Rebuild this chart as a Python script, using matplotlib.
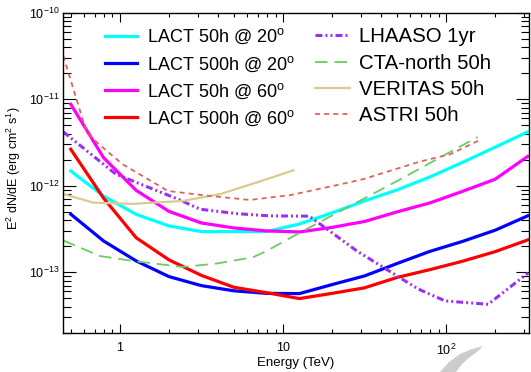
import matplotlib
matplotlib.use('Agg')
import matplotlib.pyplot as plt
from matplotlib.ticker import FixedLocator, FuncFormatter, NullFormatter, LogLocator
from matplotlib.patches import Polygon

plt.rcParams['font.family'] = ['Liberation Sans', 'DejaVu Sans']
plt.rcParams['mathtext.fontset'] = 'custom'
plt.rcParams['mathtext.rm'] = 'Liberation Sans'
plt.rcParams['mathtext.it'] = 'Liberation Sans:italic'
plt.rcParams['mathtext.bf'] = 'Liberation Sans:bold'
plt.rcParams['lines.scale_dashes'] = False

# ---------------- data ----------------
lact_E = [0.5, 0.794, 1.26, 2.0, 3.16, 5.0, 7.94, 12.6, 20.0, 31.6, 50.0, 79.4, 126, 200, 316]
lact50_20 = [1.48e-12, 7.6e-13, 4.66e-13, 3.43e-13, 2.95e-13, 2.95e-13, 2.95e-13, 3.61e-13,
             4.86e-13, 6.67e-13, 8.94e-13, 1.26e-12, 1.86e-12, 2.79e-12, 4.19e-12]
lact500_20 = [4.69e-13, 2.3e-13, 1.35e-13, 8.9e-14, 7.0e-14, 6.1e-14, 5.7e-14, 5.66e-14,
              7.2e-14, 9.06e-14, 1.26e-13, 1.74e-13, 2.27e-13, 3.06e-13, 4.48e-13]
lact50_60 = [8.75e-12, 2.11e-12, 8.83e-13, 5.05e-13, 3.71e-13, 3.25e-13, 3.0e-13, 2.92e-13,
             3.3e-13, 3.86e-13, 4.98e-13, 6.32e-13, 8.6e-13, 1.19e-12, 2.18e-12]
lact500_60 = [2.64e-12, 7.2e-13, 2.5e-13, 1.39e-13, 9.2e-14, 6.7e-14, 5.8e-14, 4.96e-14,
              5.7e-14, 6.6e-14, 8.7e-14, 1.07e-13, 1.34e-13, 1.73e-13, 2.36e-13]

lhaaso_E = [0.45, 0.945, 2.33, 3.1, 5.2, 8.3, 14.5, 28.4, 67.3, 98.6, 181, 318]
lhaaso_F = [4.19e-12, 1.36e-12, 6.86e-13, 5.35e-13, 4.76e-13, 4.48e-13, 4.45e-13, 1.76e-13,
            6.41e-14, 4.66e-14, 4.26e-14, 9.8e-14]

cta_E = [0.45, 0.754, 1.2, 2.43, 3.92, 6.55, 7.93, 12.7, 50.8, 156]
cta_F = [2.33e-13, 1.54e-13, 1.35e-13, 1.15e-13, 1.26e-13, 1.49e-13, 1.76e-13, 2.87e-13,
         1.15e-12, 3.66e-12]

veritas_E = [0.45, 0.686, 1.2, 2.43, 4.1, 6.9, 11.6]
veritas_F = [8.03e-13, 6.38e-13, 6.17e-13, 6.67e-13, 7.98e-13, 1.09e-12, 1.51e-12]

astri_E = [0.45, 0.627, 0.765, 1.04, 1.97, 3.23, 6.27, 11.0, 20.3, 31, 69, 106, 157]
astri_F = [3.17e-11, 4.07e-12, 2.88e-12, 1.77e-12, 8.7e-13, 7.77e-13, 6.85e-13, 7.77e-13,
           9.95e-13, 1.19e-12, 1.9e-12, 2.31e-12, 3.3e-12]

x_ticks = [1, 10, 100]
x_tick_labels = ['1', '10', '10$^{2}$']
y_ticks = [1e-13, 1e-12, 1e-11, 1e-10]
y_tick_labels = ['10$^{-13}$', '10$^{-12}$', '10$^{-11}$', '10$^{-10}$']

# ---------------- figure ----------------
fig = plt.figure(figsize=(5.31, 3.72), dpi=100)
ax = fig.add_axes([63.3 / 531, (372 - 332.7) / 372, (528.5 - 63.3) / 531, 320 / 372])

lw = 2.3
l1, = ax.plot(lact_E, lact50_20, color='#00FFFF', lw=lw, label='LACT 50h @ 20$^{\\mathrm{o}}$')
l2, = ax.plot(lact_E, lact500_20, color='#0000FF', lw=lw, label='LACT 500h @ 20$^{\\mathrm{o}}$')
l3, = ax.plot(lact_E, lact50_60, color='#FF00FF', lw=lw, label='LACT 50h @ 60$^{\\mathrm{o}}$')
l4, = ax.plot(lact_E, lact500_60, color='#FF0000', lw=lw, label='LACT 500h @ 60$^{\\mathrm{o}}$')
l5, = ax.plot(lhaaso_E, lhaaso_F, color='#9B30F5', lw=2.2,
              dashes=(5, 2.2, 1.4, 2.2, 1.4, 2.2), label='LHAASO 1yr')
l6, = ax.plot(cta_E, cta_F, color='#6CCB5F', lw=1.3, dashes=(9, 5), label='CTA-north 50h')
l7, = ax.plot(veritas_E, veritas_F, color='#D7CC90', lw=1.6, label='VERITAS 50h')
l8, = ax.plot(astri_E, astri_F, color='#DC645C', lw=1.3, dashes=(3.6, 3), label='ASTRI 50h')

ax.set_xscale('log')
ax.set_yscale('log')
ax.set_xlim(0.45, 320)
ax.set_ylim(2e-14, 1e-10)

ax.xaxis.set_major_locator(FixedLocator(x_ticks))
ax.xaxis.set_major_formatter(FuncFormatter(lambda v, p: x_tick_labels[x_ticks.index(v)] if v in x_ticks else ''))
ax.xaxis.set_minor_locator(LogLocator(base=10, subs=[2, 3, 4, 5, 6, 7, 8, 9], numticks=20))
ax.xaxis.set_minor_formatter(NullFormatter())
ax.yaxis.set_major_locator(FixedLocator(y_ticks))
ax.yaxis.set_major_formatter(FuncFormatter(lambda v, p: y_tick_labels[min(range(4), key=lambda i: abs(y_ticks[i] / v - 1))]))
ax.yaxis.set_minor_locator(LogLocator(base=10, subs=[2, 3, 4, 5, 6, 7, 8, 9], numticks=20))
ax.yaxis.set_minor_formatter(NullFormatter())

ax.tick_params(axis='both', which='both', direction='in', top=True, right=True, width=0.8, colors='black')
ax.tick_params(axis='x', which='major', length=6.5, pad=7, labelsize=9)
ax.tick_params(axis='x', which='minor', length=3.2)
ax.tick_params(axis='y', which='major', length=9.5, pad=2.5, labelsize=9)
ax.tick_params(axis='y', which='minor', length=5.5)
for s in ax.spines.values():
    s.set_linewidth(1.0)

ax.set_xlabel('Energy (TeV)', fontsize=9.5)
ax.xaxis.set_label_coords(0.5, -0.075)
ax.set_ylabel('E$^{2}$ dN/dE (erg cm$^{2}$ s$^{1}$)', fontsize=9)
ax.yaxis.set_label_coords(-0.086, 0.515)

leg1 = ax.legend(handles=[l1, l2, l3, l4], loc='upper left', bbox_to_anchor=(0.0896, 0.955),
                 frameon=False, fontsize=13, borderpad=0, borderaxespad=0, handlelength=1.8,
                 handletextpad=0.5, labelspacing=0.43)
ax.add_artist(leg1)
ax.legend(handles=[l5, l6, l7, l8], loc='upper left', bbox_to_anchor=(0.541, 0.954),
          frameon=False, fontsize=14.7, borderpad=0, borderaxespad=0, handlelength=1.7,
          handletextpad=0.44, labelspacing=0.36)

# faint grey watermark swoosh below the axes (decoration in the reference)
sw = [(440, 372), (449, 362), (460, 354), (472, 349), (483, 346), (478, 351),
      (470, 357), (462, 364), (456, 372)]
fig.patches.append(Polygon([(x / 531, 1 - y / 372) for x, y in sw], closed=True,
                           transform=fig.transFigure, facecolor='#cccccc', edgecolor='none',
                           zorder=0))

fig.savefig('out.png', dpi=100)
